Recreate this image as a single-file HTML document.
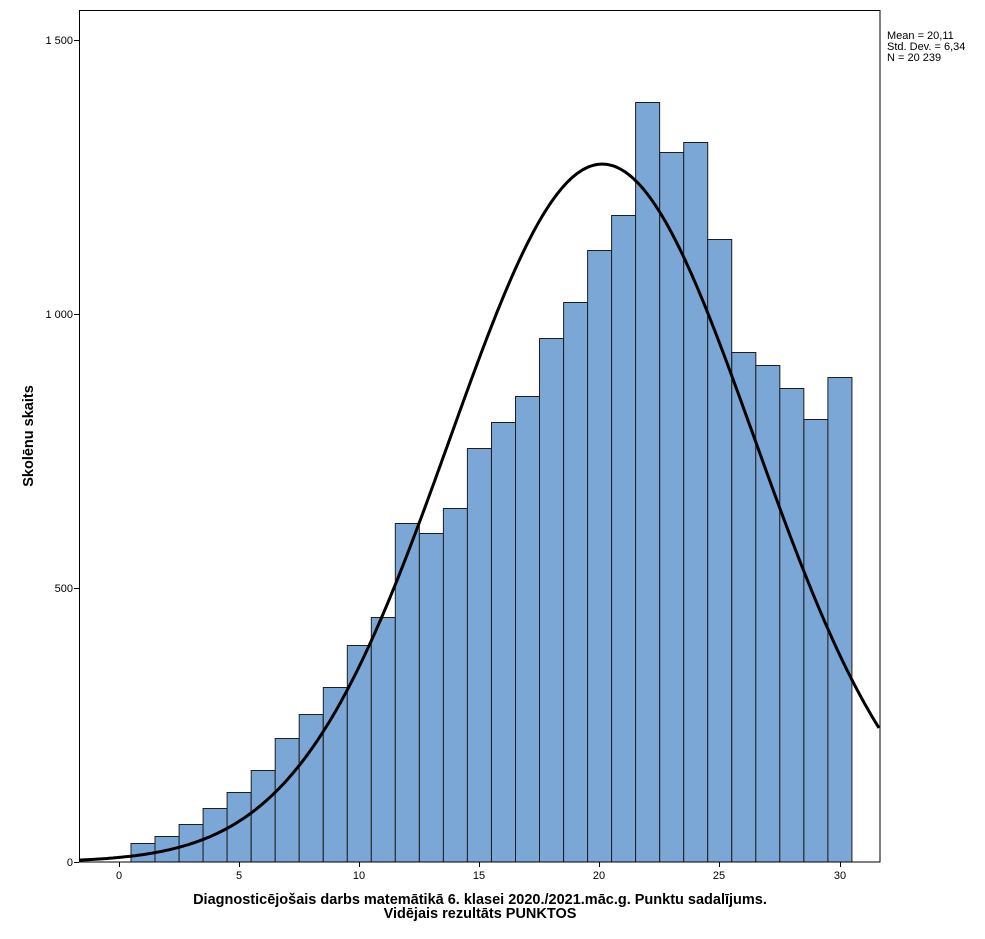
<!DOCTYPE html>
<html><head><meta charset="utf-8"><style>
body{margin:0;background:#fff;}
svg{display:block;font-family:"Liberation Sans",sans-serif;}
</style></head><body>
<svg id="s" width="985" height="939" viewBox="0 0 985 939" xmlns="http://www.w3.org/2000/svg">
<rect x="0" y="0" width="985" height="939" fill="#fff"/>
<g id="bars" fill="#7ba7d6" stroke="#1e1e1e" stroke-width="1"></g>
<path id="curve" fill="none" stroke="#000" stroke-width="3"/>
<rect x="79.5" y="10.5" width="800.5" height="851.5" fill="none" stroke="#000" stroke-width="1"/>
<g stroke="#000" stroke-width="1">
<line x1="74" y1="40.5" x2="79" y2="40.5"/>
<line x1="74" y1="314.5" x2="79" y2="314.5"/>
<line x1="74" y1="588.5" x2="79" y2="588.5"/>
<line x1="74" y1="862.5" x2="79" y2="862.5"/>
<line x1="119.5" y1="862" x2="119.5" y2="867"/>
<line x1="239.5" y1="862" x2="239.5" y2="867"/>
<line x1="359.5" y1="862" x2="359.5" y2="867"/>
<line x1="479.5" y1="862" x2="479.5" y2="867"/>
<line x1="599.5" y1="862" x2="599.5" y2="867"/>
<line x1="719.5" y1="862" x2="719.5" y2="867"/>
<line x1="840.5" y1="862" x2="840.5" y2="867"/>
</g>
<g font-size="11" fill="#000" text-anchor="end">
<text x="73" y="44">1 500</text>
<text x="73" y="318">1 000</text>
<text x="73" y="592">500</text>
<text x="73" y="866">0</text>
</g>
<g font-size="11" fill="#000" text-anchor="middle">
<text x="119" y="879">0</text>
<text x="239" y="879">5</text>
<text x="359" y="879">10</text>
<text x="479" y="879">15</text>
<text x="599" y="879">20</text>
<text x="719" y="879">25</text>
<text x="840" y="879">30</text>
</g>
<g font-size="11" fill="#000">
<text x="887" y="39">Mean = 20,11</text>
<text x="887" y="50">Std. Dev. = 6,34</text>
<text x="887" y="61">N = 20 239</text>
</g>
<g font-size="14.5" font-weight="bold" fill="#000" text-anchor="middle">
<text x="480" y="904">Diagnosticējošais darbs matemātikā 6. klasei 2020./2021.māc.g. Punktu sadalījums.</text>
<text x="480" y="918">Vidējais rezultāts PUNKTOS</text>
<text transform="translate(33,436) rotate(-90)">Skolēnu skaits</text>
</g>
</svg>
<script>
var tops=[843,836,824,808,792,770,738,714,687,645,617,523,533,508,448,422,396,338,302,250,215,102,152,142,239,352,365,388,419,377];
var u=24.03,x0=119,g=document.getElementById('bars'),h='';
for(var k=1;k<=30;k++){var l=x0+(k-0.5)*u;var t=tops[k-1];
h+='<rect x="'+(l).toFixed(1)+'" y="'+(t+0.5)+'" width="'+u.toFixed(2)+'" height="'+(862-t-0.5)+'"/>';}
g.innerHTML=h;
var m=20.11,sd=6.34,N=20239,d='';
for(var px=79;px<=880;px+=2){var v=(px-x0)/u;var c=N/(sd*Math.sqrt(2*Math.PI))*Math.exp(-0.5*Math.pow((v-m)/sd,2));
var y=862-c*0.548;d+=(d?'L':'M')+px+' '+y.toFixed(1);}
document.getElementById('curve').setAttribute('d',d);
</script>
</body></html>
